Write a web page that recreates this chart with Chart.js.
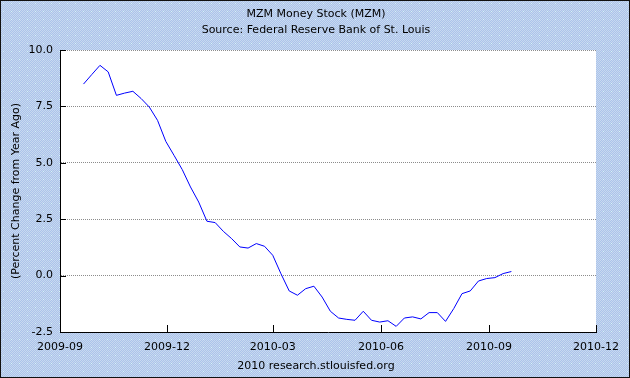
<!DOCTYPE html>
<html>
<head>
<meta charset="utf-8">
<script src="https://cdn.jsdelivr.net/npm/chart.js@4"></script>
<style>
	html, body { margin: 0; padding: 0; background: #fff; }
	#wrap { width: 630px; height: 378px; }
</style>
</head>
<body>
<div id="wrap"><canvas id="mzmChart" width="630" height="378"></canvas></div>
<script>
// weekly observations (week start)
const weeks = [
	'2009-09-21', '2009-09-28', '2009-10-05', '2009-10-12', '2009-10-19', '2009-10-26',
	'2009-11-02', '2009-11-09', '2009-11-16', '2009-11-23', '2009-11-30', '2009-12-07',
	'2009-12-14', '2009-12-21', '2009-12-28', '2010-01-04', '2010-01-11', '2010-01-18',
	'2010-01-25', '2010-02-01', '2010-02-08', '2010-02-15', '2010-02-22', '2010-03-01',
	'2010-03-08', '2010-03-15', '2010-03-22', '2010-03-29', '2010-04-05', '2010-04-12',
	'2010-04-19', '2010-04-26', '2010-05-03', '2010-05-10', '2010-05-17', '2010-05-24',
	'2010-05-31', '2010-06-07', '2010-06-14', '2010-06-21', '2010-06-28', '2010-07-05',
	'2010-07-12', '2010-07-19', '2010-07-26', '2010-08-02', '2010-08-09', '2010-08-16',
	'2010-08-23', '2010-08-30', '2010-09-06', '2010-09-13', '2010-09-20',
]

// percent change from year ago
const mzmChange = [
	8.49, 8.91, 9.32, 9.03, 7.99, 8.09,
	8.17, 7.85, 7.47, 6.88, 5.95, 5.33,
	4.70, 3.93, 3.26, 2.41, 2.35, 1.96,
	1.64, 1.27, 1.22, 1.42, 1.30, 0.90,
	0.08, -0.68, -0.87, -0.58, -0.47, -0.95,
	-1.58, -1.88, -1.94, -1.98, -1.58, -1.98,
	-2.06, -2.00, -2.25, -1.88, -1.83, -1.92,
	-1.64, -1.64, -2.03, -1.46, -0.80, -0.68,
	-0.24, -0.13, -0.09, 0.09, 0.18,
]

const xTickLabels = ['2009-09', '2009-12', '2010-03', '2010-06', '2010-09', '2010-12']

const titleLines = ['MZM Money Stock (MZM)', 'Source: Federal Reserve Bank of St. Louis']
const footerText = '2010 research.stlouisfed.org'
const yAxisTitle = '(Percent Change from Year Ago)'

// days since 2009-09-01
const origin = Date.UTC(2009, 8, 1)
const toDays = (s) => {
	const [y, m, d] = s.split('-').map(Number)
	return (Date.UTC(y, m - 1, d || 1) - origin) / 86400000
}
const xTickDays = xTickLabels.map(toDays)
const points = weeks.map((w, i) => ({ x: toDays(w), y: mzmChange[i] }))

const FONT = 'DejaVu Sans, Verdana, sans-serif'

// background pattern like the old FRED graphs
const makePattern = (ctx) => {
	const c = document.createElement('canvas')
	c.width = 8
	c.height = 8
	const p = c.getContext('2d')
	for (let y = 0; y < 8; y++) {
		for (let x = 0; x < 8; x++) {
			p.fillStyle = (x + y) % 2 ? '#abc4ea' : '#c8d8f0'
			p.fillRect(x, y, 1, 1)
		}
	}
	p.fillStyle = '#d8f4f4'
	p.fillRect(3, 3, 1, 1)
	return ctx.createPattern(c, 'repeat')
}

const framePlugin = {
	id: 'frame',
	beforeDraw(chart) {
		const { ctx, chartArea: a, width, height } = chart
		ctx.save()
		ctx.fillStyle = makePattern(ctx)
		ctx.fillRect(0, 0, width, height)
		ctx.fillStyle = '#fff'
		ctx.fillRect(a.left, a.top, a.right - a.left, a.bottom - a.top)
		ctx.restore()
	},
	afterDraw(chart) {
		const { ctx, chartArea: a, width, height } = chart
		const xs = chart.scales.x
		const ys = chart.scales.y
		ctx.save()
		// tick marks drawn inside the plot
		ctx.strokeStyle = '#000'
		ctx.lineWidth = 1
		ctx.beginPath()
		ys.ticks.forEach((t) => {
			const y = Math.round(ys.getPixelForValue(t.value)) + 0.5
			ctx.moveTo(a.left, y)
			ctx.lineTo(a.left + 6, y)
		})
		xs.ticks.forEach((t) => {
			const x = Math.round(xs.getPixelForValue(t.value)) + 0.5
			ctx.moveTo(x, a.bottom)
			ctx.lineTo(x, a.bottom - 7)
		})
		ctx.stroke()

		// titles and footer
		ctx.fillStyle = '#000'
		ctx.font = '11px ' + FONT
		ctx.textAlign = 'center'
		ctx.textBaseline = 'middle'
		ctx.fillText(titleLines[0], 316, 14)
		ctx.fillText(titleLines[1], 316, 30)
		ctx.fillText(footerText, 316, 366)

		// outer border
		ctx.strokeStyle = '#111'
		ctx.strokeRect(0.5, 0.5, width - 1, height - 1)
		ctx.restore()
	},
}

const ctx = document.getElementById('mzmChart').getContext('2d')
const mzmChart = new Chart(ctx, {
	type: 'line',
	data: {
		datasets: [
			{
				label: 'MZM',
				data: points,
				borderColor: '#0000ff',
				borderWidth: 1,
				pointRadius: 0,
				tension: 0,
				fill: false,
			},
		],
	},
	options: {
		responsive: false,
		animation: false,
		layout: {
			padding: { top: 50, right: 34, left: 0, bottom: 0 },
		},
		plugins: {
			legend: { display: false },
			tooltip: { enabled: false },
		},
		scales: {
			x: {
				type: 'linear',
				min: 0,
				max: xTickDays[xTickDays.length - 1],
				afterBuildTicks: (scale) => {
					scale.ticks = xTickDays.map((v) => ({ value: v }))
				},
				afterFit: (scale) => {
					scale.height = 46
				},
				ticks: {
					autoSkip: false,
					maxRotation: 0,
					padding: 9,
					color: '#000',
					font: { family: FONT, size: 11 },
					callback: (v) => xTickLabels[xTickDays.indexOf(v)],
				},
				grid: { display: false, drawTicks: false },
				border: { display: true, color: '#000', width: 1 },
			},
			y: {
				min: -2.5,
				max: 10,
				afterFit: (scale) => {
					scale.width = 60
				},
				ticks: {
					stepSize: 2.5,
					padding: 7,
					color: '#000',
					font: { family: FONT, size: 11 },
					callback: (v) => v.toFixed(1),
				},
				grid: { color: '#8c8c8c', lineWidth: 1, drawTicks: false },
				border: { display: true, color: '#000', width: 1, dash: [1, 1] },
				title: {
					display: true,
					text: yAxisTitle,
					color: '#000',
					font: { family: FONT, size: 11 },
					padding: { top: 10, bottom: 0 },
				},
			},
		},
	},
	plugins: [framePlugin],
})
</script>
</body>
</html>
